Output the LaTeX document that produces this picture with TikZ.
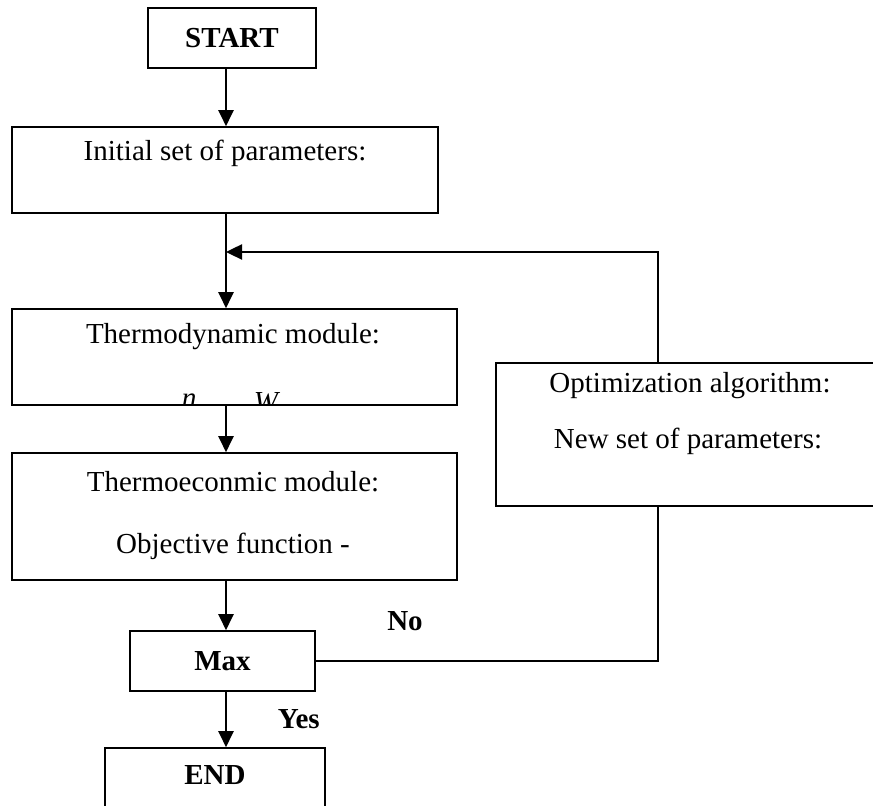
\documentclass[tikz,border=0pt]{standalone}
\usepackage{fontspec}
\setmainfont{Liberation Serif}
\usepackage{tikz}
\usetikzlibrary{arrows.meta,calc}

\begin{document}
\begin{tikzpicture}[x=0.5pt,y=-0.5pt,
  font=\fontsize{14.5}{17}\selectfont,
  box/.style={draw,line width=0.8pt,inner sep=0pt},
  flow/.style={line width=1.2pt,-{Triangle[length=8pt,width=7.5pt]}},
  plain/.style={line width=1pt}]
\useasboundingbox (0,0) rectangle (873,806);
\clip (0,0) rectangle (873,806);
\coordinate (spine) at (226,0);
\coordinate (loopx) at (658,0);
\coordinate (join) at (226,252);
% boxes
\node[box,minimum width=84pt,minimum height=30pt] (start) at (232,38) {\textbf{START}};
\node[box,minimum width=213pt,minimum height=43pt] (init) at (225,170) {};
\node (inittxt) at (225,153) {Initial set of parameters:};
\node[box,minimum width=222.5pt,minimum height=48pt] (thermo) at (234.5,357) {};
\node (thermotxt) at (233,337) {Thermodynamic module:};
\begin{scope}
\clip (thermo.north west) rectangle (thermo.south east);
\node (eta) at (189,404) {\itshape η};
\node (work) at (266,402) {\itshape W};
\end{scope}
\node[box,minimum width=222.5pt,minimum height=63.5pt] (econ) at (234.5,516.5) {};
\node (econtxt) at (233,482) {Thermoeconmic module:};
\node (objtxt) at (233,546) {Objective function -};
\node[box,minimum width=92.5pt,minimum height=30pt] (max) at (222.5,661) {\textbf{Max}};
\node[box,minimum width=110pt,minimum height=40pt] (end) at (215,788) {};
\node (endtxt) at (215,775) {\textbf{END}};
\node[box,minimum width=194pt,minimum height=71.5pt] (opt) at (690,434.5) {};
\node (opttxt) at (690,386) {Optimization algorithm:};
\node (newtxt) at (688,441) {New set of parameters:};
% connectors
\draw[flow] (start.south -| spine) -- (init.north -| spine);
\draw[flow] (init.south -| spine) -- (thermo.north -| spine);
\draw[flow] (thermo.south -| spine) -- (econ.north -| spine);
\draw[flow] (econ.south -| spine) -- (max.north -| spine);
\draw[flow] (max.south -| spine) -- (end.north -| spine) node[pos=0.5,right=22pt] (yes) {\textbf{Yes}};
\draw[plain] (max.east) -| (opt.south -| loopx);
\node (no) at (405,621) {\textbf{No}};
\draw[flow] (opt.north -| loopx) |- (join);
\end{tikzpicture}
\end{document}
